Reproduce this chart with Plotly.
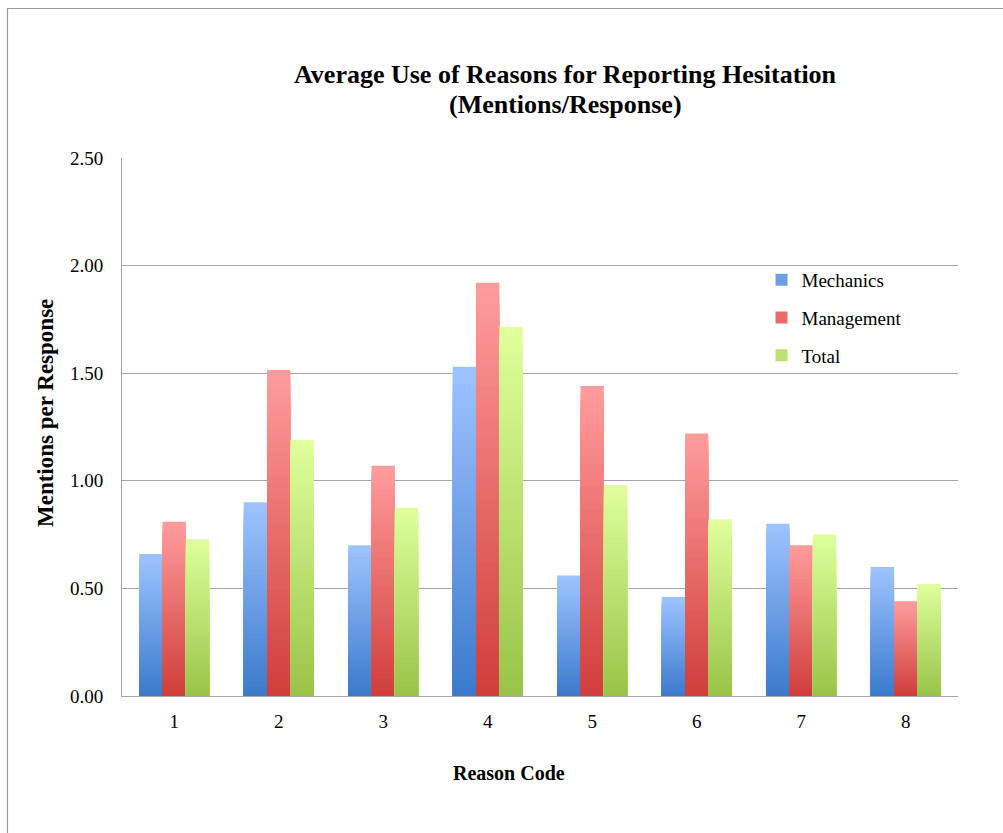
import plotly.graph_objects as go

# Reason codes and average mentions per response for each group
reason_codes = ["1", "2", "3", "4", "5", "6", "7", "8"]
mechanics = [0.66, 0.90, 0.70, 1.53, 0.56, 0.46, 0.80, 0.60]
management = [0.81, 1.515, 1.07, 1.92, 1.44, 1.22, 0.70, 0.44]
total = [0.73, 1.19, 0.875, 1.715, 0.98, 0.82, 0.75, 0.52]
y_ticks = [0.0, 0.5, 1.0, 1.5, 2.0, 2.5]

series = [
    ("Mechanics", mechanics, (157, 195, 255), (60, 123, 204)),
    ("Management", management, (255, 155, 155), (208, 63, 60)),
    ("Total", total, (222, 255, 155), (154, 196, 73)),
]

FONT = "Liberation Serif, Times New Roman, serif"
GRID = "#a6a6a6"
STEPS = 40          # colour steps used for the vertical gradient
BAR_W = 0.223       # width of one bar in category units
GROUP_LEFT = -0.335 # offset of the first bar in each group

# plot-area geometry in pixels, used to place paper-referenced text
PL, PR, PT, PB = 122, 958, 158, 696


def px_x(px):
    return (px - PL) / (PR - PL)


def px_y(py):
    return (PB - py) / (PB - PT)


fig = go.Figure()


def mix(top, bottom, t):
    return "rgb(%d,%d,%d)" % tuple(round(a + (b - a) * t) for a, b in zip(top, bottom))


for j, (name, vals, top, bottom) in enumerate(series):
    # Full-height bar in the light colour first, then progressively shorter,
    # darker bars on top of it, giving a light-to-dark fade toward the base.
    for k in range(STEPS):
        frac = (STEPS - k) / STEPS
        fig.add_trace(go.Bar(
            x=reason_codes,
            y=[v * frac for v in vals],
            name=name,
            legendgroup=name,
            showlegend=(k == STEPS // 2),
            offset=GROUP_LEFT + j * BAR_W,
            width=BAR_W,
            marker=dict(color=mix(top, bottom, k / (STEPS - 1)), line=dict(width=0)),
            hovertemplate=name + " %{x}: %{customdata:.2f}<extra></extra>",
            customdata=vals,
        ))

fig.update_layout(
    width=1003,
    height=833,
    barmode="overlay",
    plot_bgcolor="white",
    paper_bgcolor="white",
    margin=dict(l=PL, r=1003 - PR, t=PT, b=833 - PB),
    font=dict(family=FONT, color="black", size=19),
    legend=dict(
        x=0.765, y=px_y(261), xanchor="left", yanchor="top",
        font=dict(family=FONT, size=19),
        traceorder="grouped",
        tracegroupgap=10,
        bgcolor="rgba(0,0,0,0)",
    ),
    xaxis=dict(
        type="category",
        showgrid=False,
        showline=True, linecolor=GRID, linewidth=1,
        ticks="", ticklabelstandoff=8,
        tickfont=dict(family=FONT, size=19),
    ),
    yaxis=dict(
        range=[0, 2.5],
        tickvals=y_ticks,
        ticktext=["%.2f" % v for v in y_ticks],
        showgrid=True, gridcolor=GRID, gridwidth=1,
        showline=True, linecolor=GRID, linewidth=1,
        zeroline=False,
        ticks="", ticklabelstandoff=14,
        tickfont=dict(family=FONT, size=19),
    ),
    annotations=[
        dict(text="<b>Average Use of Reasons for Reporting Hesitation</b>",
             xref="paper", yref="paper", x=px_x(565), y=px_y(75),
             xanchor="center", yanchor="middle", showarrow=False,
             font=dict(family=FONT, size=26)),
        dict(text="<b>(Mentions/Response)</b>",
             xref="paper", yref="paper", x=px_x(565), y=px_y(104),
             xanchor="center", yanchor="middle", showarrow=False,
             font=dict(family=FONT, size=26)),
        dict(text="<b>Reason Code</b>", xref="paper", yref="paper",
             x=px_x(509), y=px_y(773),
             xanchor="center", yanchor="middle", showarrow=False,
             font=dict(family=FONT, size=20)),
        dict(text="<b>Mentions per Response</b>", xref="paper", yref="paper",
             x=px_x(45), y=px_y(413), textangle=-90,
             xanchor="center", yanchor="middle", showarrow=False,
             font=dict(family=FONT, size=23)),
    ],
    shapes=[
        dict(type="rect", xref="paper", yref="paper",
             x0=px_x(7.5), x1=px_x(1012), y0=px_y(845), y1=px_y(8.5),
             line=dict(color="#999999", width=1.2), layer="below"),
    ],
)

fig.write_html("out.html")
